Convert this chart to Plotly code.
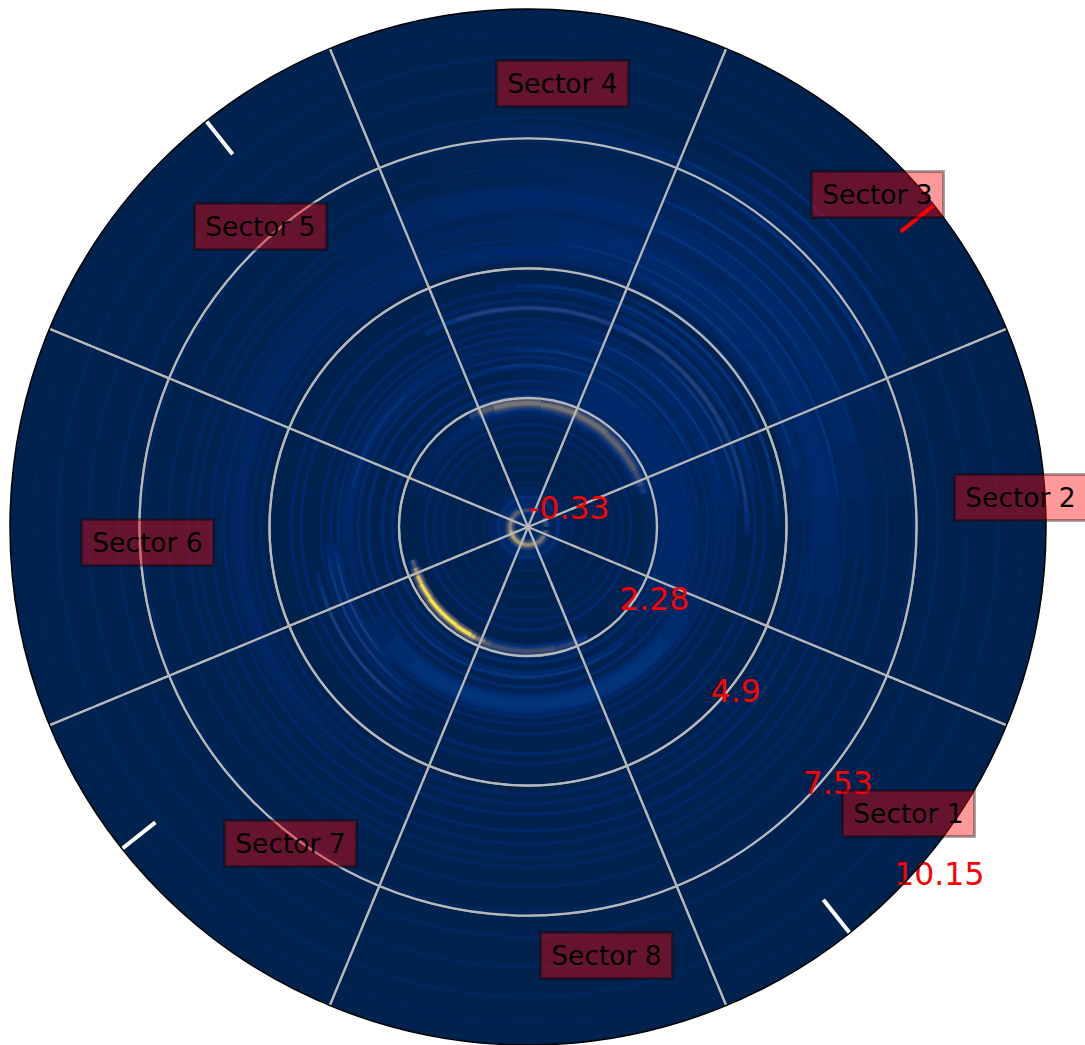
import plotly.graph_objects as go

# ---------- data ----------
radial_ticks = [-0.33, 2.28, 4.9, 7.53, 10.15]
radial_labels = ["-0.33", "2.28", "4.9", "7.53", "10.15"]
spoke_theta = [22.5, 67.5, 112.5, 157.5, 202.5, 247.5, 292.5, 337.5]
tick_theta = [38.4, 128.4, 218.4, 308.4]
tick_colors = ["red", "white", "white", "white"]
tick_inner = [9.29, 9.29, 9.29, 9.29]
tick_outer = [10.15, 10.15, 10.15, 10.15]
sector_names = ["Sector 1", "Sector 2", "Sector 3", "Sector 4",
                "Sector 5", "Sector 6", "Sector 7", "Sector 8"]

# complete faint rings
ring_r = [0.28, 0.56, 0.82, 1.09, 1.37, 1.57, 1.75, 2.42, 2.62, 2.91, 3.11, 3.31, 3.51,
          3.66, 3.86, 4.26, 4.46, 5.07, 5.27, 5.48, 5.82, 6.08, 6.35, 6.55, 6.95, 7.46,
          7.96, 8.57, 9.18, 9.68]
ring_level = [0.07, 0.02, 0.015, 0.02, 0.025, 0.03, 0.04, 0.05, 0.045, 0.05, 0.045, 0.04, 0.04,
              0.035, 0.035, 0.04, 0.035, 0.03, 0.03, 0.04, 0.035, 0.03, 0.025, 0.025, 0.02, 0.02,
              0.02, 0.015, 0.015, 0.01]

# broad soft bands
glow_r = [0.00, 3.26, 2.67, 5.25, 5.67, 6.32, 2.01, 3.31, 5.70, 6.80, 3.60, 7.65, 5.54]
glow_thick = [0.62, 0.32, 0.85, 0.30, 0.55, 0.45, 0.22, 0.22, 0.60, 0.80, 0.40, 0.30, 0.28]
glow_theta = [180, 275, 25, 65, 40, 60, 90, 150, 125, 55, 40, 60, 180]
glow_span = [360, 130, 140, 150, 125, 130, 150, 100, 120, 100, 120, 90, 100]
glow_level = [0.05, 0.085, 0.04, 0.04, 0.045, 0.04, 0.035, 0.04, 0.02, 0.022, 0.035, 0.025, 0.03]

# thin streaks, mostly in the upper right
streak_r = [2.95, 3.25, 3.65, 3.95, 4.10, 4.10, 4.10, 4.32, 4.55, 4.72, 4.92, 5.22, 5.42, 5.68, 5.96,
            6.22, 6.52, 6.82, 7.14, 7.42, 7.72, 8.02, 8.34, 3.30, 3.58, 3.75, 4.03, 2.70, 2.72, 3.38]
streak_thick = [0.05, 0.06, 0.06, 0.06, 0.08, 0.08, 0.07, 0.06, 0.07, 0.06, 0.06, 0.07, 0.06, 0.07, 0.07,
                0.07, 0.06, 0.07, 0.07, 0.07, 0.06, 0.06, 0.06, 0.06, 0.06, 0.06, 0.06, 0.06, 0.06, 0.06]
streak_theta = [75, 58, 45, 30, 88, 45, 18, 40, 65, 35, 55, 40, 62, 45, 28,
                50, 38, 50, 40, 45, 55, 42, 50, 150, 205, 210, 215, 280, 245, 300]
streak_span = [75, 85, 75, 50, 60, 50, 40, 60, 65, 70, 60, 65, 55, 60, 55,
               50, 55, 45, 45, 40, 40, 36, 32, 50, 40, 50, 45, 70, 70, 60]
streak_level = [0.10, 0.10, 0.10, 0.11, 0.16, 0.17, 0.13, 0.09, 0.085, 0.10, 0.085, 0.10, 0.085, 0.09, 0.085,
                0.09, 0.08, 0.085, 0.08, 0.08, 0.07, 0.07, 0.065, 0.09, 0.13, 0.12, 0.15, 0.10, 0.09, 0.09]

# bright arcs: the inner circle and the arcs near r = 2.1
bright_r = [0.01, 0.03, 0.03, 0.03, 0.03, 0.03, 0.04, 0.04, 0.04,
            2.10, 2.10, 2.11, 2.12, 2.13, 2.14, 2.15, 2.15, 2.17, 2.18, 2.19, 2.20, 2.20,
            2.19, 2.19, 2.18, 2.16, 2.14, 2.12, 2.11, 2.11, 2.11]
bright_thick = [0.05, 0.07, 0.07, 0.07, 0.07, 0.07, 0.07, 0.07, 0.07,
                0.06, 0.07, 0.07, 0.07, 0.07, 0.07, 0.07, 0.07, 0.09, 0.09, 0.09, 0.09, 0.09,
                0.09, 0.10, 0.10, 0.10, 0.10, 0.10, 0.10, 0.10, 0.09]
bright_theta = [100, 135, 170, 205, 240, 275, 310, 340, 15,
                198, 202, 206, 212, 225, 238, 243, 247, 251, 260, 275, 288, 296,
                116, 110, 95, 75, 58, 44, 33, 24, 18]
bright_span = [80, 30, 40, 30, 40, 30, 40, 20, 30,
               4, 4, 4, 8, 18, 8, 3, 5, 3, 15, 15, 11, 5,
               4, 8, 22, 18, 16, 12, 10, 8, 4]
bright_level = [0.24, 0.36, 0.55, 0.70, 0.66, 0.60, 0.46, 0.26, 0.20,
                0.30, 0.62, 0.86, 0.96, 1.00, 0.98, 0.80, 0.50, 0.32, 0.24, 0.24, 0.17, 0.10,
                0.15, 0.32, 0.46, 0.46, 0.42, 0.36, 0.30, 0.22, 0.12]

# ---------- layout constants ----------
W, H = 1085, 1045
SECTOR_PIXEL_X = [908, 1020, 877, 562, 260, 147, 290, 606]
SECTOR_PIXEL_Y = [813, 497, 195, 83, 226, 542, 843, 955]
GRID = "#b8b8b8"
CIVIDIS = [[0, "#00224e"], [0.04, "#00296a"], [0.08, "#00337a"], [0.12, "#17397a"],
           [0.22, "#3b496c"], [0.33, "#575d6d"], [0.44, "#707173"], [0.55, "#8a8678"],
           [0.66, "#a59c74"], [0.77, "#c3b369"], [0.88, "#e1cc55"], [1, "#fee838"]]
# softening layers: thickness factor, span factor, level factor
SOFT_TAPER = [(1.6, 1.0, 0.3), (1.2, 0.85, 0.55), (0.85, 0.7, 0.8), (0.5, 0.55, 1.0)]
SOFT_RING = [(1.5, 1.0, 0.4), (0.8, 1.0, 1.0)]
SOFT_BRIGHT = [(3.2, 1.0, 0.22), (2.2, 1.0, 0.42), (1.4, 1.0, 0.7), (0.8, 1.0, 1.0)]

layers = []


def soften(rs, thicks, thetas, spans, levels, recipe):
    for r, t, th, sp, lv in zip(rs, thicks, thetas, spans, levels):
        for ft, fs, fl in recipe:
            tt = t * ft
            layers.append((lv * fl, r - tt / 2, tt, th, sp * fs))


n = len(ring_r)
soften(ring_r, [0.07] * n, [180] * n, [360] * n, ring_level, SOFT_RING)
soften(glow_r, glow_thick, glow_theta, glow_span, glow_level, SOFT_TAPER)
soften(streak_r, streak_thick, streak_theta, streak_span, streak_level, SOFT_TAPER)
soften(bright_r, bright_thick, bright_theta, bright_span, bright_level, SOFT_BRIGHT)
layers.sort(key=lambda row: row[0])

fig = go.Figure()
fig.add_trace(go.Barpolar(
    base=[row[1] for row in layers], r=[row[2] for row in layers],
    theta=[row[3] for row in layers], width=[row[4] for row in layers],
    marker=dict(color=[row[0] for row in layers], colorscale=CIVIDIS, cmin=0, cmax=1,
                line=dict(width=0), showscale=False),
    hoverinfo="skip", showlegend=False))

# grid circles above the bands
fig.add_trace(go.Barpolar(
    base=[v - 0.024 for v in radial_ticks[1:-1]], r=[0.048] * 3, theta=[180] * 3, width=[360] * 3,
    marker=dict(color=GRID, line=dict(width=0)), hoverinfo="skip", showlegend=False))

for th in spoke_theta:
    fig.add_trace(go.Scatterpolar(r=[radial_ticks[0], radial_ticks[-1]], theta=[th, th], mode="lines",
                                  line=dict(color=GRID, width=2.3), hoverinfo="skip", showlegend=False))

for th, col, r0, r1 in zip(tick_theta, tick_colors, tick_inner, tick_outer):
    fig.add_trace(go.Scatterpolar(r=[r0, r1], theta=[th, th], mode="lines",
                                  line=dict(color=col, width=4), hoverinfo="skip", showlegend=False))

fig.add_trace(go.Scatterpolar(
    r=radial_ticks, theta=[-45] * len(radial_ticks), mode="text", text=radial_labels,
    textposition="top right", cliponaxis=False,
    textfont=dict(family="DejaVu Sans", size=31.5, color="red"),
    hoverinfo="skip", showlegend=False))

annotations = [
    dict(text=name, x=px / W, y=1 - py / H, xref="paper", yref="paper",
         xanchor="center", yanchor="middle", showarrow=False,
         font=dict(family="DejaVu Sans", size=26.5, color="black"),
         bgcolor="rgba(255,0,0,0.4)", bordercolor="rgba(0,0,0,0.35)", borderwidth=3,
         borderpad=0, width=129, height=43)
    for name, px, py in zip(sector_names, SECTOR_PIXEL_X, SECTOR_PIXEL_Y)
]

fig.update_layout(
    width=W, height=H, autosize=False,
    margin=dict(l=0, r=0, t=0, b=0),
    paper_bgcolor="white",
    showlegend=False,
    annotations=annotations,
    polar=dict(
        domain=dict(x=[10 / W, 1046 / W], y=[0, 1036 / H]),
        bgcolor="#00224e",
        barmode="overlay",
        radialaxis=dict(range=[radial_ticks[0], radial_ticks[-1]], tickvals=radial_ticks,
                        showticklabels=False, ticks="", showline=False, angle=-45,
                        showgrid=True, gridcolor=GRID, gridwidth=2),
        angularaxis=dict(tickvals=spoke_theta, showticklabels=False, ticks="", direction="counterclockwise",
                         rotation=0, showgrid=True, gridcolor=GRID, gridwidth=2,
                         showline=True, linecolor="black", linewidth=1.5),
    ),
)

fig.write_html("out.html", config=dict(displayModeBar=False),
               post_script="document.body.style.margin='0';document.body.style.overflow='hidden';")
